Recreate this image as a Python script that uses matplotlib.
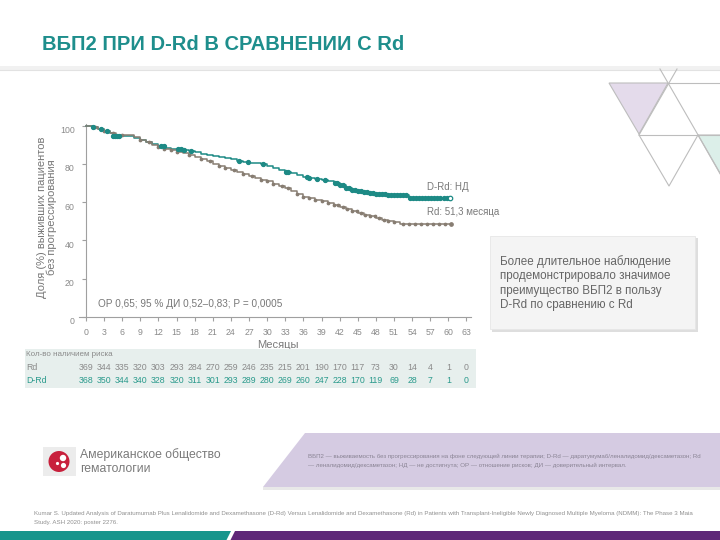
import numpy as np
import matplotlib
matplotlib.use('Agg')
import matplotlib.pyplot as plt
from matplotlib.patches import Polygon, Rectangle, Circle
from matplotlib.transforms import ScaledTranslation, blended_transform_factory

plt.rcParams['font.family'] = ['Liberation Sans', 'DejaVu Sans']

# ---------------- data ----------------
title = "ВБП2 ПРИ D-Rd В СРАВНЕНИИ С Rd"
month_ticks = list(range(0, 64, 3))
y_ticks = [0, 20, 40, 60, 80, 100]

drd_t = [0, 1, 2, 3, 4, 4.5, 8, 9, 10, 11, 12, 13, 14, 15, 16, 17, 18, 19, 20, 21, 22, 23,
         24, 25, 26, 27, 28, 29, 30, 31, 32, 33, 34, 35, 36, 37, 38, 39, 40, 41, 42, 43, 44,
         45, 46, 47, 48, 49, 50, 53.5, 60.3]
drd_s = [100, 99, 98, 97, 96, 94.5, 93.5, 92.5, 91.5, 90.5, 89.5, 88.5, 88, 87.5, 87, 86.5,
         86, 85, 84.5, 84, 83.5, 83, 82.5, 81.5, 81, 80.5, 80.3, 80, 79, 78, 77, 75.5, 75,
         74, 73, 72.5, 72, 71.5, 71, 70, 69, 67.5, 66.5, 66, 65.5, 65, 64.5, 64, 63.7, 62.0, 62.0]

rd_t = [0, 1, 2, 3, 4, 5, 8, 9, 10, 11, 12, 13, 14, 15, 16, 17, 18, 19, 20, 21, 22, 23, 24,
        25, 26, 27, 28, 29, 30, 31, 32, 33, 34, 35, 36, 37, 38, 39, 40, 41, 42, 43, 44, 45,
        46, 47, 48, 49, 50, 51, 52, 60.5]
rd_s = [100, 99, 98, 97, 96, 95, 94, 92.5, 91.5, 90, 89, 88, 87, 86.3, 85.5, 84.5, 83.7,
        82.5, 81.5, 80, 79, 78, 77, 75.5, 74.5, 73.5, 72.5, 71.5, 71, 69.5, 68.5, 67.5, 66,
        64, 62.5, 62, 61, 60.5, 59.5, 58.5, 57.5, 56.5, 55.5, 54.5, 53.5, 52.5, 51.5, 50.5,
        50, 49.5, 48.4, 48.4]

drd_cens = [1.2, 2.5, 3.5, 4.5, 4.8, 5.1, 5.4, 12.4, 12.9, 15.3, 15.8, 16.3, 17.4, 25.4,
            26.9, 29.3, 33.1, 33.5, 36.6, 37.0, 38.3, 39.5, 41.2, 41.6, 42.0, 42.5, 43.0,
            43.5, 44.0, 44.5, 45.0, 45.5, 46.0, 46.5, 47.0, 47.5, 48.0, 48.5, 49.0, 49.5,
            50.0, 50.5, 51.0, 51.5, 52.0, 52.5, 53.0, 53.7, 54.2, 54.7, 55.2, 55.7, 56.2,
            56.7, 57.2, 57.7, 58.2, 58.7, 59.2, 59.7]
rd_cens = [1.5, 3, 4.5, 6, 9, 10.5, 12, 13, 14, 15, 17, 19, 20.5, 22, 23, 24.5, 26, 27.5,
           29, 30, 31, 32.5, 33.5, 35, 36, 37, 38, 39, 40, 41, 41.8, 42.5, 43.3, 44, 44.8,
           45.5, 46.2, 47, 47.8, 48.5, 49.3, 50, 51, 52.5, 53.5, 54.5, 55.5, 56.5, 57.5,
           58.5, 59.5]

risk_rd = [369, 344, 335, 320, 303, 293, 284, 270, 259, 246, 235, 215, 201, 190, 170, 117,
           73, 30, 14, 4, 1, 0]
risk_drd = [368, 350, 344, 340, 328, 320, 311, 301, 293, 289, 280, 269, 260, 247, 228, 170,
            119, 69, 28, 7, 1, 0]

TEAL = '#1d8a85'
GRAY = '#877d72'


def km_at(times, vals, t):
    idx = np.searchsorted(times, t, side='right') - 1
    return np.asarray(vals)[idx]


fig = plt.figure(figsize=(7.2, 5.4), dpi=100)
bg = fig.add_axes([0, 0, 1, 1])
bg.set_xlim(0, 720)
bg.set_ylim(540, 0)
bg.axis('off')

# header
bg.text(42, 44, title, fontsize=14.5, fontweight='bold', color='#1e8e8c',
        va='center', ha='left')
bg.add_patch(Rectangle((0, 66), 720, 4, color='#f1f1f1', lw=0))
bg.plot([0, 720], [69.5, 69.5], color='#e2e2e2', lw=0.8)

# decorative triangles
lc = '#bdbdbd'
bg.add_patch(Polygon([(609, 83), (668, 83), (639, 134)], closed=True,
                     facecolor='#e4dbeb', edgecolor=lc, lw=0.8))
bg.add_patch(Polygon([(698, 135), (757, 135), (727, 186)], closed=True,
                     facecolor='#dcefe9', edgecolor=lc, lw=0.8))
bg.plot([668, 720], [83, 83], color=lc, lw=0.8)
bg.plot([639, 720], [135, 135], color=lc, lw=0.8)
bg.plot([660, 720], [69, 173], color=lc, lw=0.8)
bg.plot([677, 639], [69, 135], color=lc, lw=0.8)
bg.plot([639, 669, 698], [135, 186, 135], color=lc, lw=0.8)

# ---------------- KM axes ----------------
ax = fig.add_axes([79.3 / 720, (540 - 317) / 540, (470.7 - 79.3) / 720, (317 - 121.7) / 540])
ax.set_xlim(-1.1, 63.7)
ax.set_ylim(0, 102)
ax.patch.set_alpha(0)
for s in ['top', 'right']:
    ax.spines[s].set_visible(False)
ax.spines['left'].set_position(('data', 0))
ax.spines['left'].set_bounds(0, 101)
for s in ['left', 'bottom']:
    ax.spines[s].set_color('#a0a0a0')
    ax.spines[s].set_linewidth(0.8)
ax.set_xticks(month_ticks)
ax.set_xticklabels([str(m) for m in month_ticks])
ax.set_yticks(y_ticks)
ax.set_yticklabels([str(v) for v in y_ticks])
ax.tick_params(axis='both', colors='#a0a0a0', labelcolor='#8a8a8a', labelsize=6.3,
               length=3, width=0.8, direction='out')
ax.tick_params(axis='x', pad=5)
ax.tick_params(axis='y', pad=5)
for lab in ax.get_yticklabels():
    lab.set_transform(lab.get_transform() + ScaledTranslation(0, -0.04, fig.dpi_scale_trans))

ax.step(drd_t, drd_s, where='post', color=TEAL, lw=1.1, zorder=3)
ax.step(rd_t, rd_s, where='post', color=GRAY, lw=1.1, zorder=4)
ax.plot(rd_cens, km_at(rd_t, rd_s, rd_cens), ls='none', marker='o', ms=1.7,
        color=GRAY, zorder=5)
ax.plot([rd_t[-1]], [rd_s[-1]], ls='none', marker='o', ms=2.4, color=GRAY, zorder=5)
ax.plot(drd_cens, km_at(drd_t, drd_s, drd_cens), ls='none', marker='o', ms=2.8,
        color=TEAL, zorder=6)
ax.plot([drd_t[-1]], [drd_s[-1]], ls='none', marker='o', ms=3.2, mfc='white',
        mec=TEAL, mew=0.9, zorder=6)

ax.text(2, 6.8, "ОР 0,65; 95 % ДИ 0,52–0,83; Р = 0,0005", fontsize=7.2, color='#777777',
        va='center', ha='left')
ax.text(56.4, 68, "D-Rd: НД", fontsize=7, color='#7a7a7a', va='center', ha='left')
ax.text(56.4, 54.9, "Rd: 51,3 месяца", fontsize=7, color='#7a7a7a', va='center', ha='left')

# y label
bg.text(47, 217, "Доля (%) выживших пациентов\nбез прогрессирования", rotation=90,
        fontsize=8, color='#777777', ha='center', va='center', multialignment='center',
        linespacing=1.05)
bg.text(278, 345, "Месяцы", fontsize=8, color='#7a7a7a', ha='center', va='center', zorder=1)

# ---------------- risk table ----------------
bg.add_patch(Rectangle((25, 349), 451, 39, facecolor='#e7efed', edgecolor='none', zorder=2))
bg.text(26, 355, "Кол-во наличием риска", fontsize=5.8, color='#8a8a8a', va='center',
        ha='left', zorder=3)
bg.text(26, 367, "Rd", fontsize=6.3, color='#8a8a8a', va='center', ha='left', zorder=3)
bg.text(26, 380.5, "D-Rd", fontsize=6.3, color='#2a9a8c', va='center', ha='left', zorder=3)
trans = blended_transform_factory(ax.transData, bg.transData)
for m, a, b in zip(month_ticks, risk_rd, risk_drd):
    bg.text(m, 367, str(a), transform=trans, fontsize=6.3, color='#8a8a8a',
            ha='center', va='center', zorder=3)
    bg.text(m, 380.5, str(b), transform=trans, fontsize=6.3, color='#2a9a8c',
            ha='center', va='center', zorder=3)

# ---------------- callout box ----------------
bg.add_patch(Rectangle((492, 238), 206, 94, facecolor='#dedede', edgecolor='none', zorder=1))
bg.add_patch(Rectangle((490, 236), 205, 93, facecolor='#f4f4f4', edgecolor='#e6e6e6',
                       lw=0.6, zorder=2))
bg.text(500, 283, "Более длительное наблюдение\nпродемонстрировало значимое\n"
        "преимущество ВБП2 в пользу\nD-Rd по сравнению с Rd",
        fontsize=8.4, color='#666666', va='center', ha='left', linespacing=1.25, zorder=3)

# ---------------- ASH logo ----------------
bg.add_patch(Rectangle((43, 447), 33, 29, facecolor='#ececec', edgecolor='none'))
bg.add_patch(Circle((59, 461.5), 10.5, facecolor='#c8203c', edgecolor='none'))
bg.add_patch(Circle((63, 458), 3.2, facecolor='white', edgecolor='none'))
bg.add_patch(Circle((63.5, 465.5), 2.6, facecolor='white', edgecolor='none'))
bg.add_patch(Circle((57.5, 463.5), 1.6, facecolor='white', edgecolor='none'))
bg.text(80, 455, "Американское общество", fontsize=8.8, color='#7a7a7a', va='center',
        ha='left')
bg.text(80, 469.5, "гематологии", fontsize=8.8, color='#7a7a7a', va='center', ha='left')

# ---------------- footnote band ----------------
bg.add_patch(Rectangle((263, 487), 457, 2.5, facecolor='#e8e8e8', edgecolor='none'))
bg.add_patch(Polygon([(305, 433), (720, 433), (720, 487), (263, 487)], closed=True,
                     facecolor='#d5cbe2', edgecolor='none'))
bg.text(308, 456.5, "ВБП2 — выживаемость без прогрессирования на фоне следующей линии терапии; "
        "D-Rd — даратумумаб/леналидомид/дексаметазон; Rd", fontsize=4.4, color='#8a8494',
        va='center', ha='left')
bg.text(308, 465.5, "— леналидомид/дексаметазон; НД — не достигнута; ОР — отношение рисков; "
        "ДИ — доверительный интервал.", fontsize=4.4, color='#8a8494', va='center', ha='left')

# ---------------- reference ----------------
bg.text(34, 514, "Kumar S. Updated Analysis of Daratumumab Plus Lenalidomide and Dexamethasone "
        "(D-Rd) Versus Lenalidomide and Dexamethasone (Rd) in Patients with Transplant-Ineligible "
        "Newly Diagnosed Multiple Myeloma (NDMM): The Phase 3 Maia", fontsize=4.4,
        color='#909090', va='center', ha='left')
bg.text(34, 522.5, "Study. ASH 2020: poster 2276.", fontsize=4.4, color='#909090',
        va='center', ha='left')

# bottom strip
bg.add_patch(Polygon([(0, 531), (231, 531), (226, 541), (0, 541)], closed=True,
                     facecolor='#17958c', edgecolor='none'))
bg.add_patch(Polygon([(235, 531), (720, 531), (720, 541), (230, 541)], closed=True,
                     facecolor='#5e2878', edgecolor='none'))

fig.savefig('out.png', dpi=100)
